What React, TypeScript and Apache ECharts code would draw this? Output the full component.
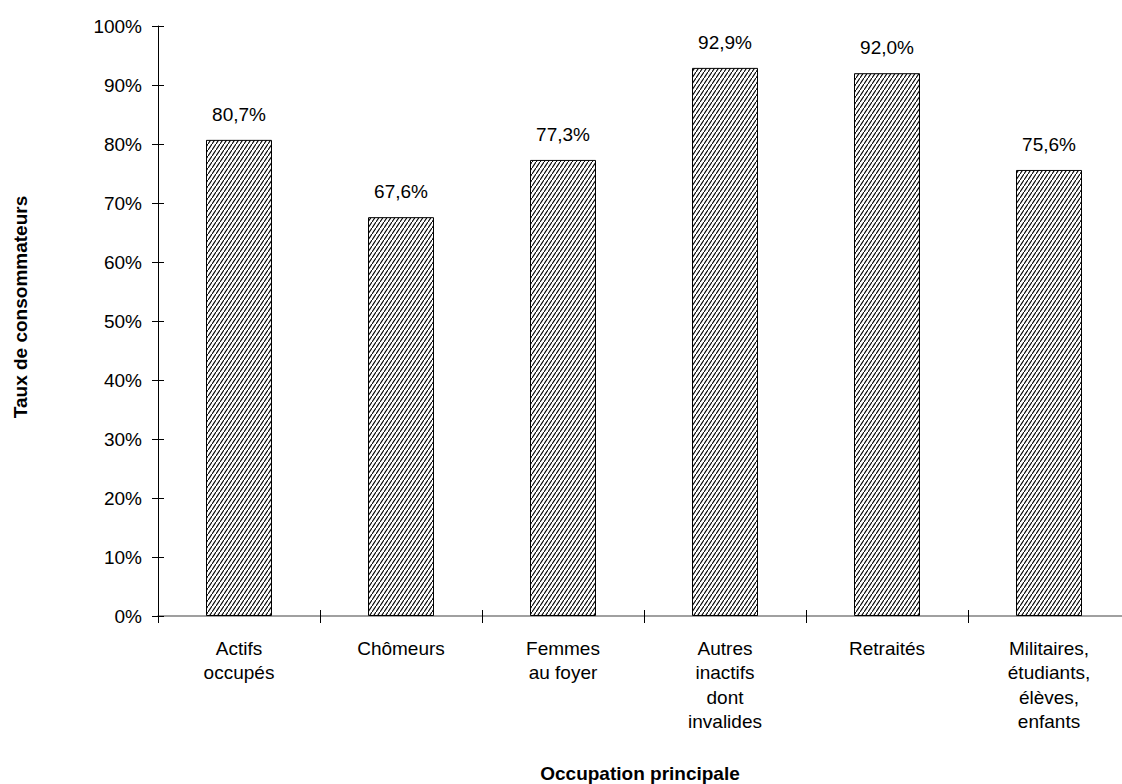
import React, { useEffect, useRef } from "react";
import * as echarts from "echarts";

const categories = [
  "Actifs\noccupés",
  "Chômeurs",
  "Femmes\nau foyer",
  "Autres\ninactifs\ndont\ninvalides",
  "Retraités",
  "Militaires,\nétudiants,\nélèves,\nenfants",
];
const values = [80.7, 67.6, 77.3, 92.9, 92.0, 75.6];
const yTicks = [0, 10, 20, 30, 40, 50, 60, 70, 80, 90, 100];

const hatchSvg =
  "data:image/svg+xml;charset=utf-8," +
  encodeURIComponent(
    '<svg xmlns="http://www.w3.org/2000/svg" width="4" height="6">' +
      '<rect width="4" height="6" fill="white"/>' +
      '<line x1="-1" y1="7.5" x2="5" y2="-1.5" stroke="black" stroke-width="1.1"/>' +
      "</svg>"
  );

export default function App() {
  const ref = useRef<HTMLDivElement>(null);
  useEffect(() => {
    document.body.style.margin = "0";
    document.body.style.overflow = "hidden";
    const chart = echarts.init(ref.current!, null, { renderer: "svg" });
    const font = "'Liberation Sans', Arial, sans-serif";
    const fs = 19;
    const fmt = (v: number) => v.toFixed(1).replace(".", ",") + "%";
    chart.setOption({
      animation: false,
      backgroundColor: "#ffffff",
      grid: { left: 158, right: 0, top: 26, bottom: 168, containLabel: false },
      xAxis: [
        {
          type: "category",
          data: categories,
          position: "bottom",
          axisLine: { lineStyle: { color: "#808080", width: 1.5 } },
          axisTick: { show: true, length: 7, lineStyle: { color: "#000" } },
          axisLabel: {
            interval: 0,
            color: "#000",
            fontFamily: font,
            fontSize: fs,
            lineHeight: 24.5,
            margin: 20,
          },
        },
        {
          type: "category",
          data: categories,
          position: "bottom",
          axisLine: { show: false },
          axisTick: { show: true, inside: true, length: 6, lineStyle: { color: "#000" } },
          axisLabel: { show: false },
        },
      ],
      yAxis: [
        {
          type: "value",
          min: 0,
          max: 100,
          interval: 10,
          position: "left",
          splitLine: { show: false },
          axisLine: { show: true, lineStyle: { color: "#000" } },
          axisTick: { show: true, length: 6, lineStyle: { color: "#000" } },
          axisLabel: {
            color: "#000",
            fontFamily: font,
            fontSize: fs,
            margin: 16,
            formatter: (v: number) => (yTicks.includes(v) ? v + "%" : ""),
          },
        },
        {
          type: "value",
          min: 0,
          max: 100,
          interval: 10,
          position: "left",
          splitLine: { show: false },
          axisLine: { show: false },
          axisTick: { show: true, inside: true, length: 6, lineStyle: { color: "#000" } },
          axisLabel: { show: false },
        },
      ],
      series: [
        {
          type: "bar",
          data: values,
          barWidth: 66,
          itemStyle: {
            color: { image: hatchSvg, repeat: "repeat" },
            borderColor: "#000",
            borderWidth: 1,
          },
          label: {
            show: true,
            position: "top",
            distance: 16,
            color: "#000",
            fontFamily: font,
            fontSize: fs,
            formatter: (p: any) => fmt(p.value),
          },
        },
      ],
      graphic: [
        {
          type: "text",
          x: 20,
          y: 307,
          rotation: Math.PI / 2,
          style: {
            text: "Taux de consommateurs",
            font: "bold 19px 'Liberation Sans', Arial, sans-serif",
            fill: "#000",
            align: "center",
            verticalAlign: "middle",
          },
        },
        {
          type: "text",
          x: 640,
          y: 773,
          style: {
            text: "Occupation principale",
            font: "bold 19px 'Liberation Sans', Arial, sans-serif",
            fill: "#000",
            align: "center",
            verticalAlign: "middle",
          },
        },
      ],
    });
    return () => chart.dispose();
  }, []);
  return <div ref={ref} style={{ width: 1130, height: 784 }} />;
}
